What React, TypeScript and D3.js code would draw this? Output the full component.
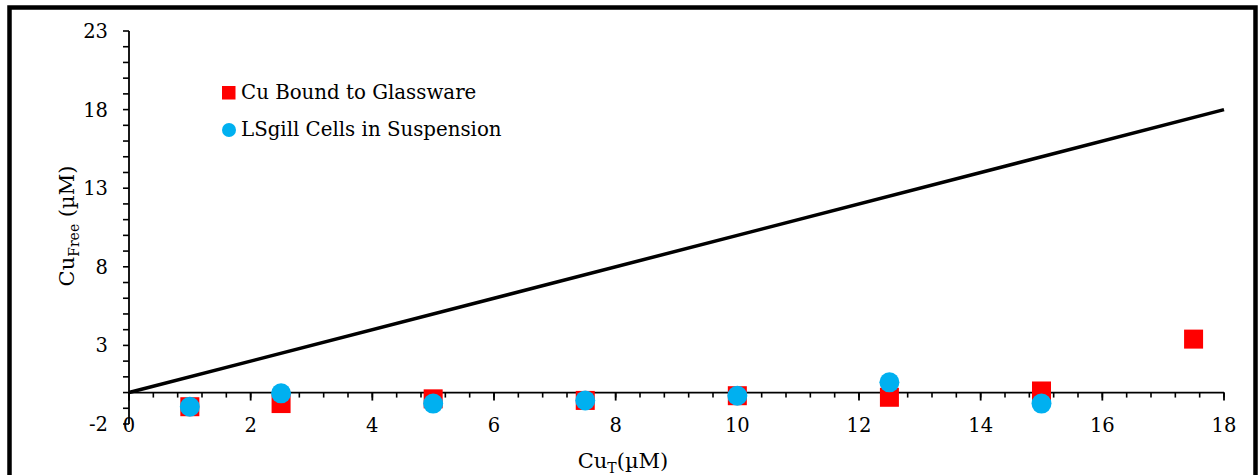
import React from "react";
import * as d3 from "d3";

// Total copper added (µM)
const cuTotal = [1, 2.5, 5, 7.5, 10, 12.5, 15, 17.5];
// Free copper measured with copper bound to glassware (µM)
const glassware = [-0.9, -0.7, -0.4, -0.5, -0.2, -0.3, 0.1, 3.4];
// Free copper measured with LSgill cells in suspension (µM)
const cellsX = [1, 2.5, 5, 7.5, 10, 12.5, 15];
const cells = [-0.9, -0.05, -0.7, -0.5, -0.2, 0.65, -0.7];

const xMajorTicks = [0, 2, 4, 6, 8, 10, 12, 14, 16, 18];
const yMajorTicks = [-2, 3, 8, 13, 18, 23];

const W = 1259;
const H = 475;
const FONT = "'DejaVu Serif', serif";

export default function App() {
  const x = d3.scaleLinear().domain([0, 18]).range([129, 1224]);
  const y = d3.scaleLinear().domain([-2, 23]).range([424, 31]);

  const xMinor = d3.range(0, 18.0001, 0.4);
  const yMinor = d3.range(-2, 23.0001, 1);

  const identity = d3
    .line<number>()
    .x((d) => x(d))
    .y((d) => y(d));

  const sq = 19;
  const r = 10;

  return (
    <svg
      width={W}
      height={H}
      style={{ position: "absolute", left: 0, top: 0, background: "#fff" }}
      fontFamily={FONT}
    >
      <rect x={0} y={0} width={W} height={H} fill="#fff" />
      {/* frame */}
      <rect x={9.5} y={7.5} width={1246} height={500} fill="none" stroke="#000" strokeWidth={4.5} />

      {/* y axis */}
      <line x1={x(0)} x2={x(0)} y1={y(-2)} y2={y(23)} stroke="#000" strokeWidth={1.8} />
      {yMinor.map((v) => (
        <line key={"ym" + v} x1={x(0) - 6} x2={x(0)} y1={y(v)} y2={y(v)} stroke="#000" strokeWidth={1.6} />
      ))}
      {yMajorTicks.map((v) => (
        <text key={"yl" + v} x={108} y={y(v)} dy="0.36em" textAnchor="end" fontSize={19.5} fill="#000">
          {v}
        </text>
      ))}

      {/* x axis at y = 0 */}
      <line x1={x(0)} x2={x(18)} y1={y(0)} y2={y(0)} stroke="#000" strokeWidth={1.8} />
      {xMinor.map((v) => (
        <line key={"xm" + v} x1={x(v)} x2={x(v)} y1={y(0)} y2={y(0) + 5} stroke="#000" strokeWidth={1.6} />
      ))}
      {xMajorTicks.map((v) => (
        <line key={"xM" + v} x1={x(v)} x2={x(v)} y1={y(0)} y2={y(0) + 8} stroke="#000" strokeWidth={1.8} />
      ))}
      {xMajorTicks.map((v) => (
        <text key={"xl" + v} x={x(v)} y={432} textAnchor="middle" fontSize={19.5} fill="#000">
          {v}
        </text>
      ))}

      {/* Cu_T = Cu_Free reference line */}
      <path d={identity([0, 18]) || ""} fill="none" stroke="#000" strokeWidth={3.5} />

      {/* series */}
      {cuTotal.map((v, i) => (
        <rect
          key={"g" + i}
          x={x(v) - sq / 2}
          y={y(glassware[i]) - sq / 2}
          width={sq}
          height={sq}
          fill="#FF0000"
        />
      ))}
      {cellsX.map((v, i) => (
        <circle key={"c" + i} cx={x(v)} cy={y(cells[i])} r={r} fill="#00B0F0" />
      ))}

      {/* legend */}
      <rect x={222} y={86} width={13.5} height={13.5} fill="#FF0000" />
      <text x={241} y={99} fontSize={19.8} fill="#000">Cu Bound to Glassware</text>
      <circle cx={229} cy={130} r={7} fill="#00B0F0" />
      <text x={241} y={136} fontSize={19.8} fill="#000">LSgill Cells in Suspension</text>

      {/* axis titles */}
      <text x={623} y={468} textAnchor="middle" fontSize={21} fill="#000">
        Cu<tspan fontSize={14} dy={5}>T</tspan>
        <tspan dy={-5}>(µM)</tspan>
      </text>
      <text
        transform={`translate(74, ${226}) rotate(-90)`}
        textAnchor="middle"
        fontSize={21}
        fill="#000"
      >
        Cu<tspan fontSize={14} dy={5}>Free</tspan>
        <tspan dy={-5}> (µM)</tspan>
      </text>
    </svg>
  );
}
